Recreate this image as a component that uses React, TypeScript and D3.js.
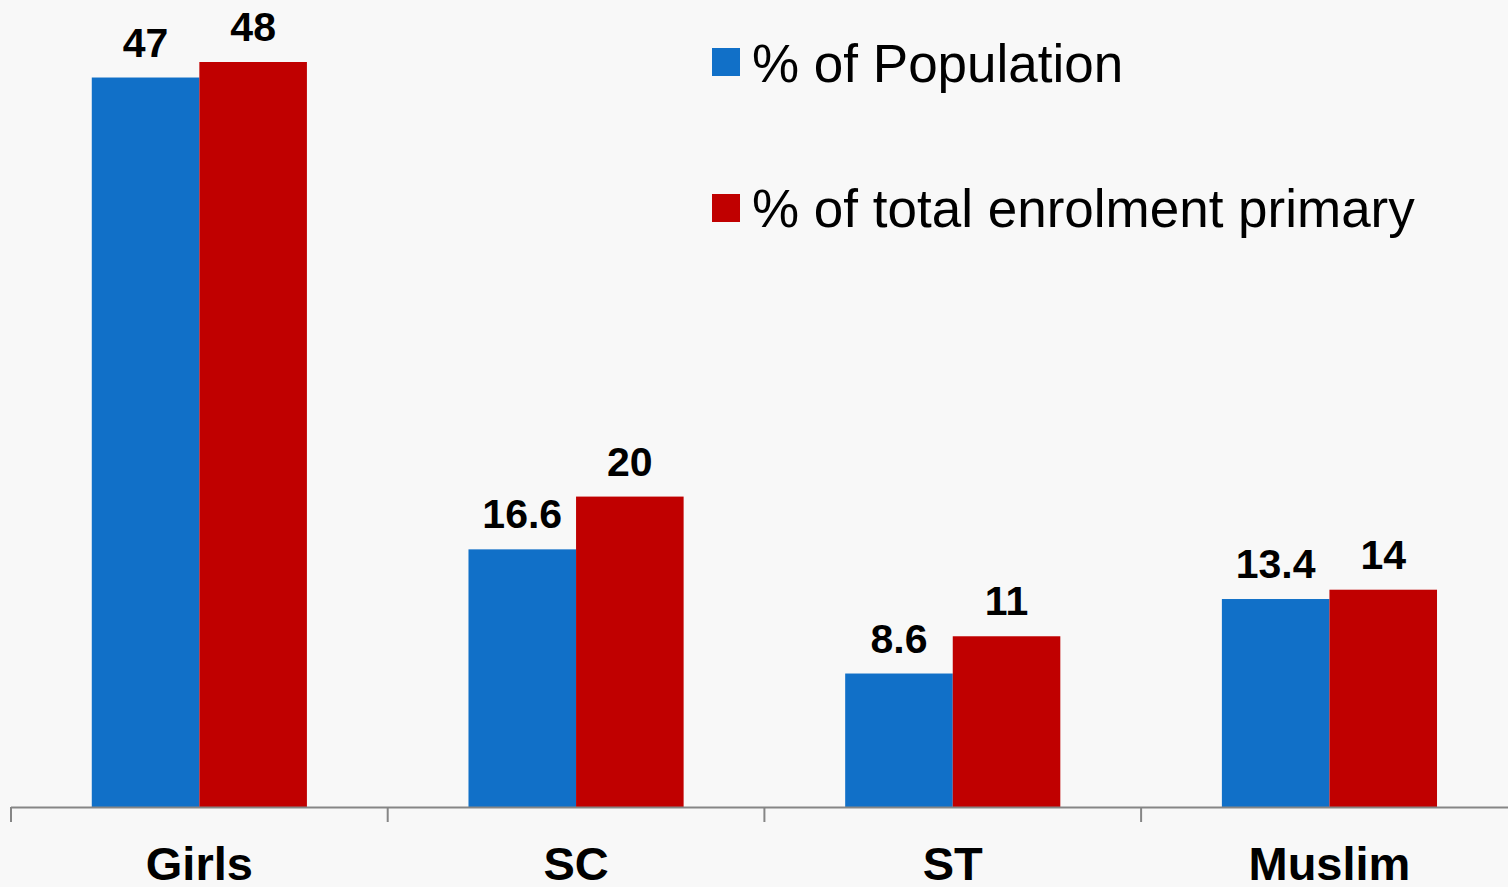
import React from "react";
import * as d3 from "d3";

const categories = ["Girls", "SC", "ST", "Muslim"];
const seriesNames = ["% of Population", "% of total enrolment primary"];
const populationValues = [47, 16.6, 8.6, 13.4];
const enrolmentValues = [48, 20, 11, 14];
const seriesColors = ["#1170C8", "#C00000"];

const W = 1508;
const H = 887;

export default function App() {
  const x = d3.scaleBand<string>().domain(categories).range([11, 11 + 376.7 * 4]).paddingInner(0).paddingOuter(0);
  const inner = d3.scaleBand<number>().domain([0, 1]).range([0, x.bandwidth()]).paddingOuter(0.751).paddingInner(0);
  const y = d3.scaleLinear().domain([0, 48]).range([807, 62]);
  const series = [populationValues, enrolmentValues];
  const font = "'Liberation Sans', Arial, sans-serif";

  return (
    <svg width={W} height={H} style={{ position: "absolute", left: 0, top: 0, display: "block" }} fontFamily={font}>
      <rect x={0} y={0} width={W} height={H} fill="#f8f8f8" />
      {categories.map((c, i) => (
        <g key={c}>
          {series.map((vals, s) => {
            const bx = (x(c) as number) + (inner(s) as number);
            const bw = inner.bandwidth();
            return (
              <g key={s}>
                <rect x={bx} y={y(vals[i])} width={bw} height={y(0) - y(vals[i])} fill={seriesColors[s]} />
                <text x={bx + bw / 2} y={y(vals[i]) - 21} textAnchor="middle" fontSize={41} fontWeight="bold" fill="#000">
                  {vals[i]}
                </text>
              </g>
            );
          })}
          <text x={(x(c) as number) + x.bandwidth() / 2} y={880} textAnchor="middle" fontSize={47} fontWeight="bold" fill="#000">
            {c}
          </text>
        </g>
      ))}
      <line x1={11} x2={W} y1={807.5} y2={807.5} stroke="#868686" strokeWidth={2} />
      {categories.map((c) => (
        <line key={c} x1={(x(c) as number)} x2={(x(c) as number)} y1={807} y2={822} stroke="#868686" strokeWidth={2} />
      ))}
      {seriesNames.map((n, s) => (
        <g key={n}>
          <rect x={712} y={48 + s * 146} width={28} height={28} fill={seriesColors[s]} />
          <text x={752} y={82 + s * 145} fontSize={53} fill="#000">
            {n}
          </text>
        </g>
      ))}
    </svg>
  );
}
